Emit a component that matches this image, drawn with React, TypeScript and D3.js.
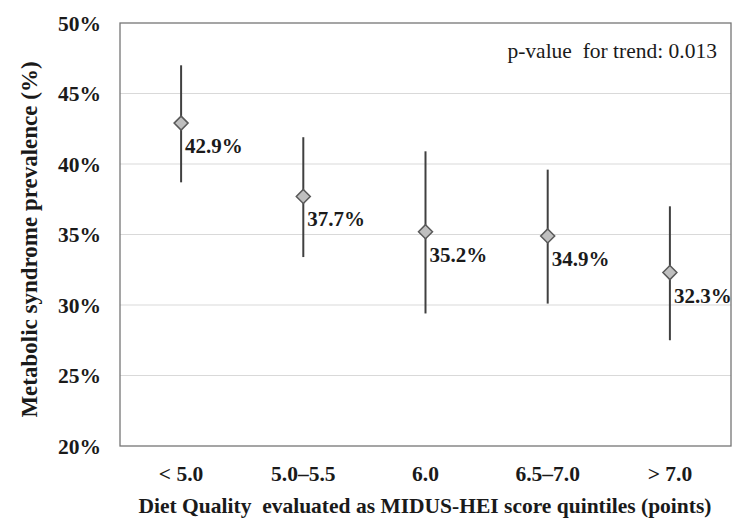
import React, { useEffect, useRef } from "react";
import * as d3 from "d3";

const categories = ["< 5.0", "5.0\u20135.5", "6.0", "6.5\u20137.0", "> 7.0"];
const prevalence = [42.9, 37.7, 35.2, 34.9, 32.3];
const lower = [38.7, 33.4, 29.4, 30.1, 27.5];
const upper = [47.0, 41.9, 40.9, 39.6, 37.0];
const yTicks = [20, 25, 30, 35, 40, 45, 50];

const App = () => {
  const svgRef = useRef<SVGSVGElement>(null);

  useEffect(() => {
    const width = 734;
    const height = 521;
    const m = { top: 23, right: 3, bottom: 75, left: 120 };
    const font = "'Liberation Serif', 'Times New Roman', serif";
    const ink = "#1a1a1a";

    const svg = d3.select(svgRef.current);
    svg.selectAll("*").remove();
    svg.attr("width", width).attr("height", height).style("font-family", font);

    const x = d3
      .scaleBand()
      .domain(categories)
      .range([m.left, width - m.right]);
    const y = d3
      .scaleLinear()
      .domain([20, 50])
      .range([height - m.bottom, m.top]);

    // gridlines
    svg
      .append("g")
      .selectAll("line")
      .data(yTicks.filter((t) => t > 20 && t < 50))
      .join("line")
      .attr("x1", m.left)
      .attr("x2", width - m.right)
      .attr("y1", (d) => y(d))
      .attr("y2", (d) => y(d))
      .attr("stroke", "#d9d9d9")
      .attr("stroke-width", 1);

    // frame
    svg
      .append("rect")
      .attr("x", m.left)
      .attr("y", m.top)
      .attr("width", width - m.right - m.left)
      .attr("height", height - m.bottom - m.top)
      .attr("fill", "none")
      .attr("stroke", "#767676")
      .attr("stroke-width", 1.3);

    // y tick labels
    svg
      .append("g")
      .selectAll("text")
      .data(yTicks)
      .join("text")
      .attr("x", 101)
      .attr("y", (d) => y(d))
      .attr("dy", "0.35em")
      .attr("text-anchor", "end")
      .style("font-size", "21.5px")
      .style("font-weight", "bold")
      .attr("fill", ink)
      .text((d) => `${d}%`);

    // x tick labels
    svg
      .append("g")
      .selectAll("text")
      .data(categories)
      .join("text")
      .attr("x", (d) => x(d)! + x.bandwidth() / 2)
      .attr("y", 481)
      .attr("text-anchor", "middle")
      .style("font-size", "21.5px")
      .style("font-weight", "bold")
      .attr("fill", ink)
      .text((d) => d);

    const cx = (i: number) => x(categories[i])! + x.bandwidth() / 2;

    // error bars
    svg
      .append("g")
      .selectAll("line")
      .data(prevalence)
      .join("line")
      .attr("x1", (_, i) => cx(i))
      .attr("x2", (_, i) => cx(i))
      .attr("y1", (_, i) => y(upper[i]))
      .attr("y2", (_, i) => y(lower[i]))
      .attr("stroke", "#404040")
      .attr("stroke-width", 2);

    // diamonds
    svg
      .append("g")
      .selectAll("path")
      .data(prevalence)
      .join("path")
      .attr("transform", (d, i) => `translate(${cx(i)},${y(d)})`)
      .attr("d", "M0,-7L7,0L0,7L-7,0Z")
      .attr("fill", "#bfbfbf")
      .attr("stroke", "#595959")
      .attr("stroke-width", 1.5);

    // value labels
    svg
      .append("g")
      .selectAll("text")
      .data(prevalence)
      .join("text")
      .attr("x", (_, i) => cx(i) + 4)
      .attr("y", (d) => y(d) + 30)
      .style("font-size", "21px")
      .style("font-weight", "bold")
      .attr("fill", ink)
      .text((d) => `${d.toFixed(1)}%`);

    // p-value note
    svg
      .append("text")
      .attr("x", 717)
      .attr("y", 58)
      .attr("text-anchor", "end")
      .style("font-size", "21.5px")
      .style("white-space", "pre")
      .attr("fill", ink)
      .text("p-value  for trend: 0.013");

    // axis titles
    svg
      .append("text")
      .attr("transform", `translate(37,${(m.top + height - m.bottom) / 2 + 5}) rotate(-90)`)
      .attr("text-anchor", "middle")
      .style("font-size", "23px")
      .style("font-weight", "bold")
      .attr("fill", ink)
      .text("Metabolic syndrome prevalence (%)");

    svg
      .append("text")
      .attr("x", 425)
      .attr("y", 513)
      .attr("text-anchor", "middle")
      .style("font-size", "21.5px")
      .style("font-weight", "bold")
      .style("white-space", "pre")
      .attr("fill", ink)
      .text("Diet Quality  evaluated as MIDUS-HEI score quintiles (points)");
  }, []);

  return (
    <svg
      ref={svgRef}
      style={{ position: "absolute", left: 0, top: 0, background: "#fff" }}
    ></svg>
  );
};

export default App;
